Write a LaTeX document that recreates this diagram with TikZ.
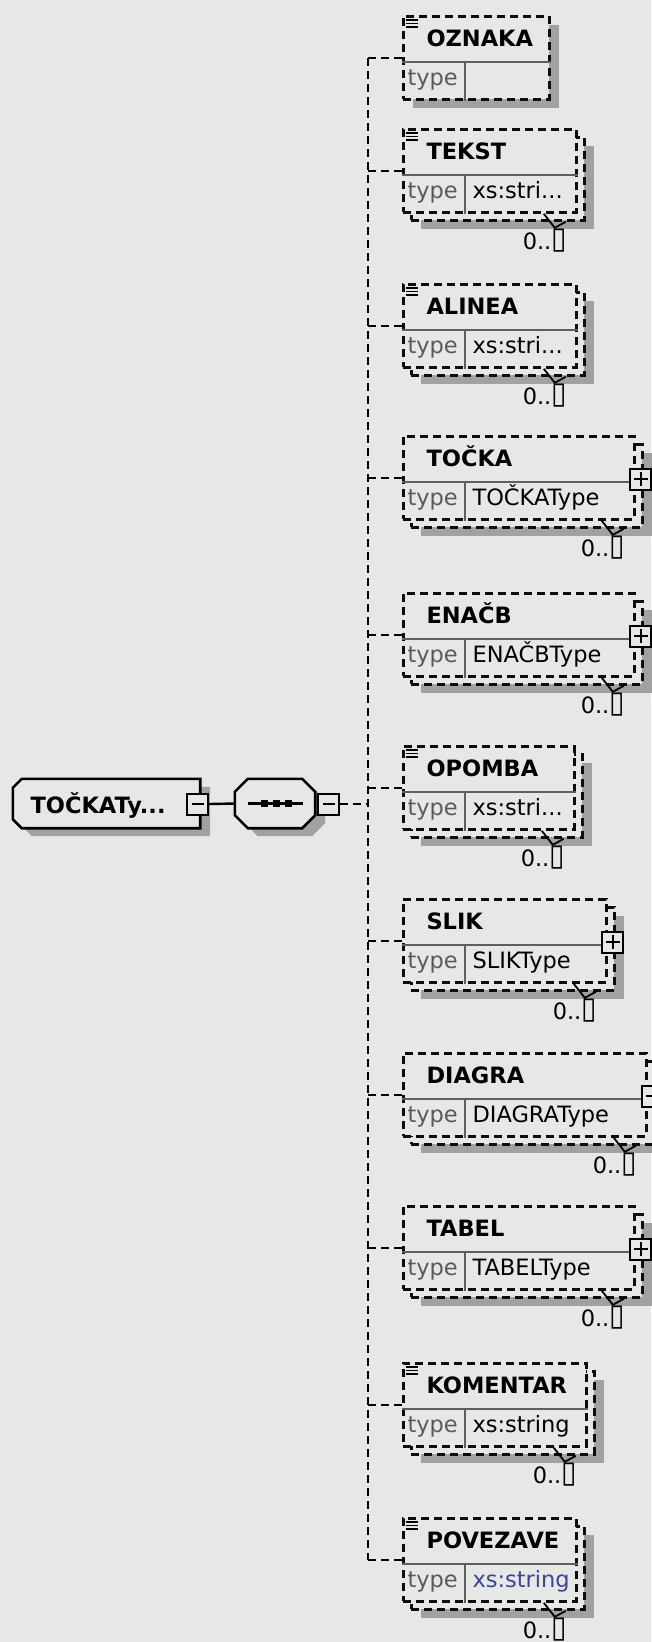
\documentclass[tikz,border=0pt]{standalone}
\usepackage{fontspec}
\setmainfont{DejaVu Sans}
\usetikzlibrary{shadows}
\definecolor{pagebg}{RGB}{229,232,229}
\definecolor{shadowgray}{RGB}{160,162,162}
\definecolor{divgray}{RGB}{95,95,95}
\definecolor{typegray}{RGB}{90,90,90}
\definecolor{xsblue}{RGB}{58,70,150}
\newcommand{\cutdots}{.{}.{}.}
\newcommand{\nobox}{\raisebox{1pt}{\scalebox{1.25}[1.35]{▯}}}
\tikzset{
  optline/.style={line width=2.8pt, dash pattern=on 8pt off 5pt},
  elembox/.style={optline, draw=black!95, fill=pagebg, anchor=north west,
    inner sep=0pt, minimum height=83pt},
  boxshadow/.style={drop shadow={shadow xshift=10pt, shadow yshift=-9pt,
    opacity=1, fill=shadowgray}},
  pmbox/.style={draw, line width=2pt, fill=pagebg, minimum width=21pt,
    minimum height=21pt, inner sep=0pt},
  namefont/.style={font=\fontsize{22.5}{27}\selectfont\bfseries},
  valfont/.style={font=\fontsize{22.5}{27}\selectfont},
}

\begin{document}
\begin{tikzpicture}[x=1pt, y=-1pt]
  \useasboundingbox (0,0) rectangle (651,1642);
  \fill[pagebg] (0,0) rectangle (651,1642);

  % complex type
  \node[minimum width=187pt, minimum height=49pt, inner sep=0pt] (ctype) at (106.5,803.5) {};
  \fill[shadowgray, transform canvas={shift={(10pt,-8pt)}}] ([xshift=9pt]ctype.north west) -- (ctype.north east)
    -- (ctype.south east) -- ([xshift=9pt]ctype.south west) -- ([yshift=9pt]ctype.south west)
    -- ([yshift=-9pt]ctype.north west) -- cycle;
  \draw[line width=2.6pt, fill=pagebg] ([xshift=9pt]ctype.north west) -- (ctype.north east)
    -- (ctype.south east) -- ([xshift=9pt]ctype.south west) -- ([yshift=9pt]ctype.south west)
    -- ([yshift=-9pt]ctype.north west) -- cycle;
  \node[namefont, anchor=base west] (ctype-name) at (27,813) {TOČKATy...};
  \node[pmbox] (ctype-minus) at (197.5,804) {};
  \draw[line width=2pt] ([xshift=-6pt]ctype-minus.center) -- ([xshift=6pt]ctype-minus.center);

  % sequence
  \node[minimum width=80pt, minimum height=49pt, inner sep=0pt] (seq) at (275,803.5) {};
  \fill[shadowgray, transform canvas={shift={(10pt,-8pt)}}] ([xshift=13pt]seq.north west) -- ([xshift=-13pt]seq.north east)
    -- ([yshift=-13pt]seq.north east) -- ([yshift=13pt]seq.south east) -- ([xshift=-13pt]seq.south east)
    -- ([xshift=13pt]seq.south west) -- ([yshift=13pt]seq.south west) -- ([yshift=-13pt]seq.north west) -- cycle;
  \draw[line width=2.6pt, fill=pagebg] ([xshift=13pt]seq.north west) -- ([xshift=-13pt]seq.north east)
    -- ([yshift=-13pt]seq.north east) -- ([yshift=13pt]seq.south east) -- ([xshift=-13pt]seq.south east)
    -- ([xshift=13pt]seq.south west) -- ([yshift=13pt]seq.south west) -- ([yshift=-13pt]seq.north west) -- cycle;
  \draw[line width=2.2pt] ([xshift=-27pt]seq.center) -- ([xshift=28pt]seq.center);
  \foreach \dx in {-11,1,13}
    \fill ([xshift=\dx pt]seq.center) +(-3.5pt,-3.5pt) rectangle +(3.5pt,3.5pt);
  \node[pmbox] (seq-minus) at (328.5,804) {};
  \draw[line width=2pt] ([xshift=-6pt]seq-minus.center) -- ([xshift=6pt]seq-minus.center);
  \draw[line width=2.4pt] (ctype-minus.east) -- (seq.west);

  % child elements
  \foreach \id/\top/\w/\lbl/\typ/\tcol/\icon/\multi/\plus in {
      oznaka/15/146/OZNAKA//black/1/0/0,
      tekst/128/173/TEKST/xs:stri\cutdots/black/1/1/0,
      alinea/283/173/ALINEA/xs:stri\cutdots/black/1/1/0,
      tocka/435/231/TOČKA/TOČKAType/black/0/1/1,
      enacb/592/231/ENAČB/ENAČBType/black/0/1/1,
      opomba/745/171/OPOMBA/xs:stri\cutdots/black/1/1/0,
      slik/898/203/SLIK/SLIKType/black/0/1/1,
      diagra/1052/243/DIAGRA/DIAGRAType/black/0/1/1,
      tabel/1205/231/TABEL/TABELType/black/0/1/1,
      komentar/1362/183/KOMENTAR/xs:string/black/1/1/0,
      povezave/1517/173/POVEZAVE/xs:string/xsblue/1/1/0} {
    \ifnum\multi=1
      \node[elembox, boxshadow, minimum width=\w pt] (\id-b) at (410,\top+8) {};
      \node[elembox, minimum width=\w pt] (\id) at (402,\top) {};
      \draw[line width=1.8pt] ([xshift=-34pt]\id.south east) -- ++(11pt,-14pt) -- ++(11pt,6pt);
      \node[valfont, inner sep=0pt] (\id-card) at ([xshift=-33pt,yshift=-27pt]\id.south east) {0..\nobox};
    \else
      \node[elembox, boxshadow, minimum width=\w pt] (\id) at (402,\top) {};
    \fi
    \draw[divgray, line width=1.6pt] ([yshift=-47pt]\id.north west) -- ([yshift=-47pt]\id.north east);
    \draw[divgray, line width=1.8pt] ([xshift=63pt,yshift=-47pt]\id.north west) -- ([xshift=63pt]\id.south west);
    \ifnum\icon=1
      \foreach \k in {0,1,2}
        \draw[line width=1.5pt] ([xshift=4pt,yshift=-5pt-3.5*\k pt]\id.north west) -- ++(12pt,0pt);
    \fi
    \node[namefont, anchor=base west] (\id-name) at ([xshift=21pt,yshift=-31pt]\id.north west) {\lbl};
    \node[valfont, text=typegray, anchor=base west] (\id-type) at ([xshift=2pt,yshift=-70pt]\id.north west) {type};
    \node[valfont, text=\tcol, anchor=base west] (\id-val) at ([xshift=67pt,yshift=-70pt]\id.north west) {\typ};
    \ifnum\plus=1
      \node[pmbox] (\id-plus) at ([xshift=5pt,yshift=-44pt]\id.north east) {};
      \draw[line width=2pt] ([xshift=-7pt]\id-plus.center) -- ([xshift=7pt]\id-plus.center)
                            ([yshift=-7pt]\id-plus.center) -- ([yshift=7pt]\id-plus.center);
    \fi
  }

  % sequence links
  \coordinate (spine) at (368,804);
  \draw[optline] (seq-minus.east) -- (spine);
  \draw[optline] (spine |- oznaka.west) -- (spine |- povezave.west);
  \foreach \id in {oznaka,tekst,alinea,tocka,enacb,opomba,slik,diagra,tabel,komentar,povezave}
    \draw[optline] (spine |- \id.west) -- (\id.west);
\end{tikzpicture}
\end{document}
